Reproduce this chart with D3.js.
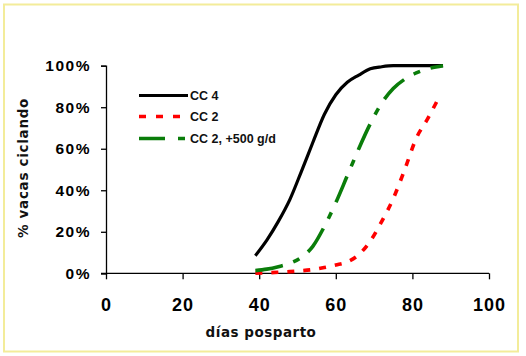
<!DOCTYPE html>
<html>
<head>
<meta charset="utf-8">
<script src="https://cdn.jsdelivr.net/npm/d3@7"></script>
<style>
  html, body { margin: 0; padding: 0; background: #fff; }
  svg { display: block; }
</style>
</head>
<body>
<svg id="chart" width="526" height="356"></svg>
<script>
// ---- data ----
const seriesNames = ["CC 4", "CC 2", "CC 2, +500 g/d"];
const daysCC4 = [39, 42, 45, 48, 51, 54, 57, 60, 63, 66, 69, 72, 75, 80, 88];
const valsCC4 = [8.5, 16, 25, 35.5, 49, 63, 76.5, 86, 92, 95.5, 98.5, 99.5, 100, 100, 100];
const daysCC2 = [39, 45, 48, 51, 54, 57, 60, 63, 66, 69, 72, 75, 78, 81, 84, 87];
const valsCC2 = [0, 0.5, 0.8, 1.2, 1.8, 2.8, 4, 5.5, 9, 15.5, 25, 36, 50, 65, 74.5, 85];
const daysCC2g = [39, 42, 45, 48, 51, 54, 57, 60, 63, 66, 69, 72, 75, 78, 81, 84, 88];
const valsCC2g = [1.3, 2, 3.2, 4.8, 7.7, 13, 22.5, 34, 47, 60, 72, 82, 89, 93.5, 96.5, 98.5, 100];
const xTicks = [0, 20, 40, 60, 80, 100];
const yTicks = [0, 20, 40, 60, 80, 100];
const xTitle = "días posparto";
const yTitle = "% vacas ciclando";

const series = [
  { name: seriesNames[0], days: daysCC4, vals: valsCC4, color: "#000000", dash: null, width: 3.2 },
  { name: seriesNames[1], days: daysCC2, vals: valsCC2, color: "#ff0000", dash: "7,9", width: 3.6 },
  { name: seriesNames[2], days: daysCC2g, vals: valsCC2g, color: "#0a7d0a", dash: "28,11,7,11", width: 3.6 }
];

const svg = d3.select("#chart");

// frame
svg.append("rect")
  .attr("x", 4).attr("y", 4.5).attr("width", 514).attr("height", 347)
  .attr("fill", "#fff").attr("stroke", "#f3ec9a").attr("stroke-width", 2);

const x = d3.scaleLinear().domain([0, 100]).range([106, 489]);
const y = d3.scaleLinear().domain([0, 100]).range([273.3, 65.7]);

// y axis
const yAxis = d3.axisLeft(y).tickValues(yTicks).tickSize(5).tickPadding(10)
  .tickFormat(d => d + "%");
const gy = svg.append("g").attr("transform", `translate(${x(0)},0)`).call(yAxis);
gy.select(".domain").attr("stroke", "#000").attr("stroke-width", 1.3);
gy.selectAll(".tick line").attr("stroke", "#000").attr("stroke-width", 1.3);
gy.selectAll(".tick text")
  .attr("font-family", "Liberation Sans, Arial, sans-serif")
  .attr("font-weight", "bold").attr("font-size", 15.5)
  .attr("letter-spacing", 1.5).attr("fill", "#000");

// x axis
const xAxis = d3.axisBottom(x).tickValues(xTicks).tickSize(6).tickPadding(19)
  .tickFormat(d3.format("d"));
const gx = svg.append("g").attr("transform", `translate(0,${y(0)})`).call(xAxis);
gx.select(".domain").attr("stroke", "#000").attr("stroke-width", 1.3)
  .attr("d", `M${x(0) - 5},0H${x(100)}`);
gx.selectAll(".tick line").attr("stroke", "#000").attr("stroke-width", 1.3);
gx.selectAll(".tick text")
  .attr("font-family", "Liberation Sans, Arial, sans-serif")
  .attr("font-weight", "bold").attr("font-size", 18)
  .attr("letter-spacing", 1).attr("fill", "#000");

// titles
svg.append("text")
  .attr("x", 261).attr("y", 337)
  .attr("text-anchor", "middle")
  .attr("font-family", "DejaVu Sans, Verdana, sans-serif")
  .attr("font-weight", "bold").attr("font-size", 13.5)
  .attr("letter-spacing", 0.5).attr("fill", "#111")
  .text(xTitle);
svg.append("text")
  .attr("transform", `translate(27.5,168) rotate(-90)`)
  .attr("text-anchor", "middle")
  .attr("font-family", "DejaVu Sans, Verdana, sans-serif")
  .attr("font-weight", "bold").attr("font-size", 13.5)
  .attr("letter-spacing", 0.7).attr("fill", "#111")
  .text(yTitle);

// lines
const line = d3.line()
  .x(d => x(d[0])).y(d => y(d[1]))
  .curve(d3.curveMonotoneX);

series.forEach(s => {
  const pts = s.days.map((d, i) => [d, s.vals[i]]);
  svg.append("path")
    .datum(pts)
    .attr("d", line)
    .attr("fill", "none")
    .attr("stroke", s.color)
    .attr("stroke-width", s.width)
    .attr("stroke-dasharray", s.dash)
    .attr("stroke-linejoin", "round");
});

// legend
const legendY = [95.5, 116.5, 138.5];
series.forEach((s, i) => {
  svg.append("line")
    .attr("x1", 139).attr("x2", 188)
    .attr("y1", legendY[i]).attr("y2", legendY[i])
    .attr("stroke", s.color).attr("stroke-width", s.width)
    .attr("stroke-dasharray", i === 1 ? "7,10" : (i === 2 ? "26,13,7,13" : null));
  svg.append("text")
    .attr("x", 190).attr("y", legendY[i])
    .attr("dy", "0.35em")
    .attr("font-family", "Liberation Sans, Arial, sans-serif")
    .attr("font-weight", "bold").attr("font-size", 12.5).attr("fill", "#111")
    .text(s.name);
});
</script>
</body>
</html>
